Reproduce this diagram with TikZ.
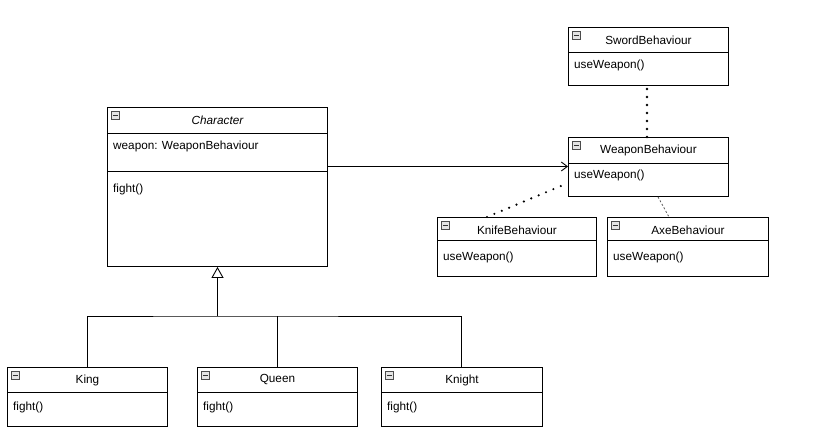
\documentclass[tikz,border=0pt]{standalone}
\usepackage{fontspec}
\setmainfont{Liberation Sans}
\usetikzlibrary{arrows.meta}
\begin{document}
\begin{tikzpicture}[x=1bp,y=-1bp,
  cls/.style={draw, line width=0.9bp, anchor=north west, inner sep=0, fill=white},
  txt/.style={inner sep=0, font=\fontsize{11.8}{13}\selectfont},
  ltxt/.style={txt, anchor=west},
  icon/.style={draw=gray!60!black, fill=gray!20, line width=0.5bp, minimum size=8bp, inner sep=0, anchor=north west,
    path picture={\draw[line width=0.9bp, black!80] ([xshift=1.5bp]path picture bounding box.west) -- ([xshift=-1.5bp]path picture bounding box.east);}},
  divl/.style={line width=0.9bp},
  conn/.style={line width=0.9bp},
  dots/.style={line width=2.6bp, dash pattern=on 0pt off 8bp, line cap=round},
]
\useasboundingbox (0,0) rectangle (817,448);

% Character
\node[cls, minimum width=220bp, minimum height=159bp] (char) at (107,107) {};
\node[icon] (charI) at ([xshift=4bp,yshift=-4bp]char.north west) {};
\node[txt, font=\fontsize{11.8}{13}\selectfont\itshape] (charT) at ([yshift=-13bp]char.north) {Character};
\draw[divl] ([yshift=-26bp]char.north west) -- ([yshift=-26bp]char.north east);
\node[ltxt] (charA) at ([xshift=6bp,yshift=-39bp]char.north west) {weapon: WeaponBehaviour};
\draw[divl] ([yshift=-64bp]char.north west) -- ([yshift=-64bp]char.north east);
\node[ltxt] (charM) at ([xshift=6bp,yshift=-82bp]char.north west) {fight()};

% SwordBehaviour
\node[cls, minimum width=160bp, minimum height=58bp] (sword) at (568,27) {};
\node[icon] (swordI) at ([xshift=4bp,yshift=-4bp]sword.north west) {};
\node[txt] (swordT) at ([yshift=-13bp]sword.north) {SwordBehaviour};
\draw[divl] ([yshift=-25bp]sword.north west) -- ([yshift=-25bp]sword.north east);
\node[ltxt] (swordM) at ([xshift=6bp,yshift=-38bp]sword.north west) {useWeapon()};

% WeaponBehaviour
\node[cls, minimum width=160bp, minimum height=59bp] (weap) at (568,137) {};
\node[icon] (weapI) at ([xshift=4bp,yshift=-4bp]weap.north west) {};
\node[txt] (weapT) at ([yshift=-13bp]weap.north) {WeaponBehaviour};
\draw[divl] ([yshift=-26bp]weap.north west) -- ([yshift=-26bp]weap.north east);
\node[ltxt] (weapM) at ([xshift=6bp,yshift=-38bp]weap.north west) {useWeapon()};

% KnifeBehaviour
\node[cls, minimum width=159bp, minimum height=59bp] (knife) at (437,217) {};
\node[icon] (knifeI) at ([xshift=4bp,yshift=-4bp]knife.north west) {};
\node[txt] (knifeT) at ([yshift=-13bp]knife.north) {KnifeBehaviour};
\draw[divl] ([yshift=-23bp]knife.north west) -- ([yshift=-23bp]knife.north east);
\node[ltxt] (knifeM) at ([xshift=6bp,yshift=-40bp]knife.north west) {useWeapon()};

% AxeBehaviour
\node[cls, minimum width=161bp, minimum height=59bp] (axe) at (607,217) {};
\node[icon] (axeI) at ([xshift=4bp,yshift=-4bp]axe.north west) {};
\node[txt] (axeT) at ([yshift=-13bp]axe.north) {AxeBehaviour};
\draw[divl] ([yshift=-23bp]axe.north west) -- ([yshift=-23bp]axe.north east);
\node[ltxt] (axeM) at ([xshift=6bp,yshift=-40bp]axe.north west) {useWeapon()};

% King, Queen, Knight
\node[cls, minimum width=160bp, minimum height=59bp] (king) at (7,367) {};
\node[icon] (kingI) at ([xshift=4bp,yshift=-4bp]king.north west) {};
\node[txt] (kingT) at ([yshift=-13bp]king.north) {King};
\draw[divl] ([yshift=-25bp]king.north west) -- ([yshift=-25bp]king.north east);
\node[ltxt] (kingM) at ([xshift=6bp,yshift=-40bp]king.north west) {fight()};

\node[cls, minimum width=160bp, minimum height=59bp] (queen) at (197,367) {};
\node[icon] (queenI) at ([xshift=4bp,yshift=-4bp]queen.north west) {};
\node[txt] (queenT) at ([yshift=-13bp]queen.north) {Queen};
\draw[divl] ([yshift=-25bp]queen.north west) -- ([yshift=-25bp]queen.north east);
\node[ltxt] (queenM) at ([xshift=6bp,yshift=-40bp]queen.north west) {fight()};

\node[cls, minimum width=161bp, minimum height=59bp] (knight) at (381,367) {};
\node[icon] (knightI) at ([xshift=4bp,yshift=-4bp]knight.north west) {};
\node[txt] (knightT) at ([yshift=-13bp]knight.north) {Knight};
\draw[divl] ([yshift=-25bp]knight.north west) -- ([yshift=-25bp]knight.north east);
\node[ltxt] (knightM) at ([xshift=6bp,yshift=-40bp]knight.north west) {fight()};

% Inheritance
\coordinate (split) at (217.5,316);
\draw[conn, -{Triangle[open, width=12bp, length=11bp]}] (split) -- (char.south -| split);
\draw[conn] (king.north -| 87.5,0) |- (split) -| (knight.north -| 461.5,0);
\draw[conn] (queen.north -| 277.5,0) -- (split -| 277.5,0);

% Association
\draw[conn, -{Straight Barb[length=6bp, width=9bp]}] (char.east |- 0,166.5) -- (weap.west |- 0,166.5);

% Realisations (dotted)
\draw[dots] (weap.north -| 647,0) -- (sword.south -| 647,0);
\draw[dots, line width=2.4bp, dash pattern=on 0pt off 8bp] (knife.north -| 487,0) -- ([yshift=-46bp]weap.north west);
\draw[line width=0.8bp, dash pattern=on 2bp off 2bp, gray!70!black] (weap.south -| 658,0) -- (axe.north -| 669,0);
\end{tikzpicture}
\end{document}
